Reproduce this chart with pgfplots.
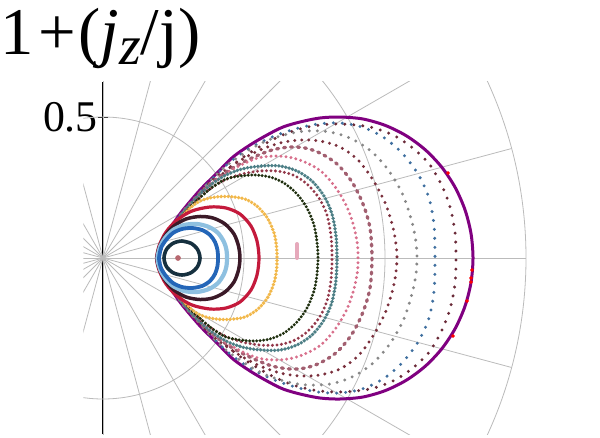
\documentclass[border=0pt]{standalone}
\usepackage{fontspec}
\setmainfont{Liberation Serif}
\usepackage{pgfplots}
\pgfplotsset{compat=1.18}
\definecolor{gridc}{HTML}{BBBBBB}
\definecolor{navyc}{HTML}{16303F}
\definecolor{bluec}{HTML}{2466B8}
\definecolor{lbluec}{HTML}{8EC0E0}
\definecolor{darkc}{HTML}{3B1A28}
\definecolor{crimc}{HTML}{C41A3C}
\definecolor{goldc}{HTML}{F2B84B}
\definecolor{olivec}{HTML}{1E2E0E}
\definecolor{marinc}{HTML}{93384A}
\definecolor{tealc}{HTML}{4D7F86}
\definecolor{pinkc}{HTML}{D8708C}
\definecolor{mauvec}{HTML}{A25F70}
\definecolor{maroac}{HTML}{7A2F3C}
\definecolor{greyc}{HTML}{888888}
\definecolor{steelc}{HTML}{3F6F9F}
\definecolor{marobc}{HTML}{6A2A38}
\definecolor{purplec}{HTML}{800080}
\definecolor{blobc}{HTML}{E6A9BB}
\definecolor{dotc}{HTML}{B86870}
\tikzset{dots/.style={line cap=round, dash pattern=on 0pt off #1}}
\begin{document}
\begin{tikzpicture}
\begin{axis}[
  x=282bp, y=282bp,
  xmin=-0.07, xmax=1.75, ymin=-0.625, ymax=0.625,
  axis x line=none,
  axis y line=center,
  axis line style={-, line width=2.5bp, black},
  ytick={0.5}, xtick=\empty,
  yticklabel style={font=\fontsize{44}{44}\selectfont, anchor=east, inner sep=0pt},
  major tick length=10bp, tick align=center,
  tick style={line width=1bp, black},
  /pgf/number format/assume math mode=true,
  clip=true,
]
\pgfplotsinvokeforeach{0,15,...,345}{\draw[gridc, line width=0.8bp] (axis cs:0,0) -- ++(#1:423bp);}
\draw[gridc, line width=0.8bp] (axis cs:0,0) circle[radius=141bp];
\draw[gridc, line width=0.8bp] (axis cs:0,0) circle[radius=282bp];
\draw[gridc, line width=0.8bp] (axis cs:0,0) circle[radius=423bp];

% outer boundary
\addplot[purplec, line width=3bp, smooth, mark=none] coordinates {
(0.1915,0) (0.2021,0.0390) (0.2270,0.0887) (0.2553,0.1312) (0.2837,0.1702) (0.3440,0.2411) (0.4043,0.3014) (0.4610,0.3582) (0.5213,0.4007) (0.5816,0.4362) (0.6383,0.4645) (0.6986,0.4823) (0.7695,0.4965) (0.8404,0.5000) (0.9220,0.4929) (1.0018,0.4699) (1.0762,0.4330) (1.1436,0.3830) (1.2018,0.3213) (1.2489,0.2500) (1.2837,0.1709) (1.3050,0.0869) (1.3121,0)
(1.3050,-0.0869) (1.2837,-0.1709) (1.2489,-0.2500) (1.2018,-0.3213) (1.1436,-0.3830) (1.0762,-0.4330) (1.0018,-0.4699) (0.9220,-0.4929) (0.8404,-0.5000) (0.7695,-0.4965) (0.6986,-0.4823) (0.6383,-0.4645) (0.5816,-0.4362) (0.5213,-0.4007) (0.4610,-0.3582) (0.4043,-0.3014) (0.3440,-0.2411) (0.2837,-0.1702) (0.2553,-0.1312) (0.2270,-0.0887) (0.2021,-0.0390) (0.1915,0)};

% maroon B
\addplot[marobc, line width=3.3bp, dots=9bp, smooth, mark=none] coordinates {
(0.1950,0) (0.2128,0.0461) (0.2376,0.0922) (0.2908,0.1667) (0.3511,0.2340) (0.4149,0.2908) (0.4787,0.3440) (0.5426,0.3865) (0.6064,0.4220) (0.6738,0.4504) (0.7447,0.4681) (0.8227,0.4752) (0.8972,0.4716) (0.9610,0.4610) (1.0355,0.4326) (1.1028,0.3865) (1.1596,0.3298) (1.2021,0.2553) (1.2305,0.1809) (1.2482,0.0922) (1.2518,0)
(1.2482,-0.0922) (1.2305,-0.1809) (1.2021,-0.2553) (1.1596,-0.3298) (1.1028,-0.3865) (1.0355,-0.4326) (0.9610,-0.4610) (0.8972,-0.4716) (0.8227,-0.4752) (0.7447,-0.4681) (0.6738,-0.4504) (0.6064,-0.4220) (0.5426,-0.3865) (0.4787,-0.3440) (0.4149,-0.2908) (0.3511,-0.2340) (0.2908,-0.1667) (0.2376,-0.0922) (0.2128,-0.0461) (0.1950,0)};

% steel blue
\addplot[steelc, line width=3.3bp, dots=9bp, smooth, mark=none] coordinates {
(0.1915,0) (0.2234,0.0709) (0.2730,0.1454) (0.3298,0.2163) (0.3865,0.2801) (0.4504,0.3404) (0.5213,0.3901) (0.5993,0.4291) (0.6809,0.4574) (0.7624,0.4752) (0.8404,0.4787) (0.9184,0.4645) (0.9929,0.4291) (1.0603,0.3723) (1.1170,0.2979) (1.1560,0.2128) (1.1738,0.1170) (1.1773,0)
(1.1738,-0.1170) (1.1560,-0.2128) (1.1170,-0.2979) (1.0603,-0.3723) (0.9929,-0.4291) (0.9184,-0.4645) (0.8404,-0.4787) (0.7624,-0.4752) (0.6809,-0.4574) (0.5993,-0.4291) (0.5213,-0.3901) (0.4504,-0.3404) (0.3865,-0.2801) (0.3298,-0.2163) (0.2730,-0.1454) (0.2234,-0.0709) (0.1915,0)};

% grey
\addplot[greyc, line width=3.3bp, dots=8bp, smooth, mark=none] coordinates {
(0.1915,0) (0.2199,0.0638) (0.2660,0.1348) (0.3227,0.2057) (0.3759,0.2695) (0.4362,0.3262) (0.5071,0.3759) (0.5780,0.4149) (0.6560,0.4397) (0.7234,0.4504) (0.8050,0.4468) (0.8830,0.4220) (0.9539,0.3759) (1.0142,0.3085) (1.0638,0.2234) (1.0957,0.1277) (1.1099,0.0567) (1.1135,0)
(1.1099,-0.0567) (1.0957,-0.1277) (1.0638,-0.2234) (1.0142,-0.3085) (0.9539,-0.3759) (0.8830,-0.4220) (0.8050,-0.4468) (0.7234,-0.4504) (0.6560,-0.4397) (0.5780,-0.4149) (0.5071,-0.3759) (0.4362,-0.3262) (0.3759,-0.2695) (0.3227,-0.2057) (0.2660,-0.1348) (0.2199,-0.0638) (0.1915,0)};

% maroon A
\addplot[maroac, line width=3.3bp, dots=7bp, smooth, mark=none] coordinates {
(0.1915,0) (0.2199,0.0638) (0.2660,0.1312) (0.3121,0.1950) (0.3652,0.2553) (0.4255,0.3050) (0.4894,0.3475) (0.5567,0.3830) (0.6277,0.4078) (0.6986,0.4184) (0.7695,0.4149) (0.8404,0.3936) (0.9043,0.3475) (0.9574,0.2766) (1.0035,0.1879) (1.0319,0.0922) (1.0426,0)
(1.0319,-0.0922) (1.0035,-0.1879) (0.9574,-0.2766) (0.9043,-0.3475) (0.8404,-0.3936) (0.7695,-0.4149) (0.6986,-0.4184) (0.6277,-0.4078) (0.5567,-0.3830) (0.4894,-0.3475) (0.4255,-0.3050) (0.3652,-0.2553) (0.3121,-0.1950) (0.2660,-0.1312) (0.2199,-0.0638) (0.1915,0)};

% mauve
\addplot[mauvec, line width=3.3bp, line cap=round, dash pattern=on 2bp off 5bp, smooth, mark=none] coordinates {
(0.1915,0) (0.2163,0.0603) (0.2518,0.1206) (0.2979,0.1809) (0.3511,0.2376) (0.4113,0.2872) (0.4716,0.3262) (0.5355,0.3582) (0.5993,0.3830) (0.6631,0.3936) (0.7163,0.3901) (0.7695,0.3723) (0.8298,0.3333) (0.8830,0.2695) (0.9220,0.1915) (0.9468,0.1064) (0.9539,0)
(0.9468,-0.1064) (0.9220,-0.1915) (0.8830,-0.2695) (0.8298,-0.3333) (0.7695,-0.3723) (0.7163,-0.3901) (0.6631,-0.3936) (0.5993,-0.3830) (0.5355,-0.3582) (0.4716,-0.3262) (0.4113,-0.2872) (0.3511,-0.2376) (0.2979,-0.1809) (0.2518,-0.1206) (0.2163,-0.0603) (0.1915,0)};

% pink
\addplot[pinkc, line width=3.3bp, dots=5bp, smooth, mark=none] coordinates {
(0.1915,0) (0.2128,0.0567) (0.2447,0.1099) (0.2872,0.1667) (0.3369,0.2199) (0.3936,0.2695) (0.4504,0.3085) (0.5035,0.3369) (0.5567,0.3564) (0.6170,0.3617) (0.6738,0.3546) (0.7234,0.3369) (0.7766,0.3050) (0.8262,0.2482) (0.8652,0.1809) (0.8901,0.1099) (0.9025,0.0461) (0.9043,0)
(0.9025,-0.0461) (0.8901,-0.1099) (0.8652,-0.1809) (0.8262,-0.2482) (0.7766,-0.3050) (0.7234,-0.3369) (0.6738,-0.3546) (0.6170,-0.3617) (0.5567,-0.3564) (0.5035,-0.3369) (0.4504,-0.3085) (0.3936,-0.2695) (0.3369,-0.2199) (0.2872,-0.1667) (0.2447,-0.1099) (0.2128,-0.0567) (0.1915,0)};

% teal
\addplot[tealc, line width=3.8bp, dots=3.5bp, smooth, mark=none] coordinates {
(0.1915,0) (0.2092,0.0496) (0.2376,0.0993) (0.2730,0.1489) (0.3191,0.2021) (0.3723,0.2518) (0.4291,0.2908) (0.4929,0.3156) (0.5603,0.3262) (0.6277,0.3262) (0.6879,0.3085) (0.7411,0.2730) (0.7837,0.2199) (0.8121,0.1560) (0.8262,0.0780) (0.8298,0)
(0.8262,-0.0780) (0.8121,-0.1560) (0.7837,-0.2199) (0.7411,-0.2730) (0.6879,-0.3085) (0.6277,-0.3262) (0.5603,-0.3262) (0.4929,-0.3156) (0.4291,-0.2908) (0.3723,-0.2518) (0.3191,-0.2021) (0.2730,-0.1489) (0.2376,-0.0993) (0.2092,-0.0496) (0.1915,0)};

% maroon inner
\addplot[marinc, line width=3.3bp, dots=4.5bp, smooth, mark=none] coordinates {
(0.1915,0) (0.2128,0.0532) (0.2447,0.1028) (0.2837,0.1525) (0.3262,0.1986) (0.3794,0.2447) (0.4326,0.2766) (0.4929,0.2979) (0.5567,0.3085) (0.6170,0.3085) (0.6738,0.2943) (0.7234,0.2624) (0.7660,0.2128) (0.7943,0.1525) (0.8085,0.0780) (0.8121,0)
(0.8085,-0.0780) (0.7943,-0.1525) (0.7660,-0.2128) (0.7234,-0.2624) (0.6738,-0.2943) (0.6170,-0.3085) (0.5567,-0.3085) (0.4929,-0.2979) (0.4326,-0.2766) (0.3794,-0.2447) (0.3262,-0.1986) (0.2837,-0.1525) (0.2447,-0.1028) (0.2128,-0.0532) (0.1915,0)};

% olive
\addplot[olivec, line width=3.3bp, dots=3.5bp, smooth, mark=none] coordinates {
(0.1933,0) (0.2092,0.0461) (0.2376,0.0922) (0.2730,0.1383) (0.3085,0.1809) (0.3546,0.2234) (0.3936,0.2553) (0.4362,0.2801) (0.4858,0.2908) (0.5390,0.2943) (0.5922,0.2872) (0.6418,0.2660) (0.6879,0.2270) (0.7234,0.1773) (0.7482,0.1170) (0.7589,0.0567) (0.7624,0)
(0.7589,-0.0567) (0.7482,-0.1170) (0.7234,-0.1773) (0.6879,-0.2270) (0.6418,-0.2660) (0.5922,-0.2872) (0.5390,-0.2943) (0.4858,-0.2908) (0.4362,-0.2801) (0.3936,-0.2553) (0.3546,-0.2234) (0.3085,-0.1809) (0.2730,-0.1383) (0.2376,-0.0922) (0.2092,-0.0461) (0.1933,0)};

% gold
\addplot[goldc, line width=3.8bp, dots=3.5bp, smooth, mark=none] coordinates {
(0.1915,0) (0.2057,0.0390) (0.2305,0.0816) (0.2624,0.1241) (0.2979,0.1667) (0.3369,0.1986) (0.3865,0.2145) (0.4433,0.2181) (0.5035,0.2092) (0.5496,0.1809) (0.5851,0.1383) (0.6064,0.0887) (0.6152,0.0426) (0.6170,0)
(0.6152,-0.0426) (0.6064,-0.0887) (0.5851,-0.1383) (0.5496,-0.1809) (0.5035,-0.2092) (0.4433,-0.2181) (0.3865,-0.2145) (0.3369,-0.1986) (0.2979,-0.1667) (0.2624,-0.1241) (0.2305,-0.0816) (0.2057,-0.0390) (0.1915,0)};

% crimson
\addplot[crimc, line width=3.2bp, smooth, mark=none] coordinates {
(0.1897,0) (0.1986,0.0426) (0.2234,0.0922) (0.2624,0.1348) (0.3156,0.1667) (0.3794,0.1809) (0.4362,0.1773) (0.4858,0.1560) (0.5248,0.1135) (0.5461,0.0603) (0.5532,0) (0.5461,-0.0603) (0.5248,-0.1135) (0.4858,-0.1560) (0.4362,-0.1773) (0.3794,-0.1809) (0.3156,-0.1667) (0.2624,-0.1348) (0.2234,-0.0922) (0.1986,-0.0426) (0.1897,0) (0.1986,0.0426)};

% dark
\addplot[darkc, line width=3.5bp, smooth, mark=none] coordinates {
(0.1915,0) (0.1986,0.0355) (0.2199,0.0780) (0.2518,0.1135) (0.2943,0.1383) (0.3440,0.1472) (0.3901,0.1418) (0.4326,0.1206) (0.4645,0.0851) (0.4805,0.0426) (0.4858,0) (0.4805,-0.0426) (0.4645,-0.0851) (0.4326,-0.1206) (0.3901,-0.1418) (0.3440,-0.1472) (0.2943,-0.1383) (0.2518,-0.1135) (0.2199,-0.0780) (0.1986,-0.0355) (0.1915,0) (0.1986,0.0355)};

% light blue
\addplot[lbluec, line width=4.2bp, smooth, mark=none] coordinates {
(0.1933,0) (0.2021,0.0390) (0.2199,0.0709) (0.2482,0.0993) (0.2872,0.1170) (0.3333,0.1206) (0.3759,0.1099) (0.4078,0.0887) (0.4291,0.0567) (0.4379,0.0284) (0.4397,0) (0.4379,-0.0284) (0.4291,-0.0567) (0.4078,-0.0887) (0.3759,-0.1099) (0.3333,-0.1206) (0.2872,-0.1170) (0.2482,-0.0993) (0.2199,-0.0709) (0.2021,-0.0390) (0.1933,0) (0.2021,0.0390)};

% blue
\addplot[bluec, line width=3.8bp, smooth, mark=none] coordinates {
(0.1986,0) (0.2057,0.0355) (0.2234,0.0638) (0.2482,0.0887) (0.2801,0.1028) (0.3156,0.1064) (0.3511,0.0993) (0.3794,0.0816) (0.3972,0.0567) (0.4060,0.0284) (0.4078,0) (0.4060,-0.0284) (0.3972,-0.0567) (0.3794,-0.0816) (0.3511,-0.0993) (0.3156,-0.1064) (0.2801,-0.1028) (0.2482,-0.0887) (0.2234,-0.0638) (0.2057,-0.0355) (0.1986,0) (0.2057,0.0355)};

% navy
\addplot[navyc, line width=3.6bp, smooth, mark=none] coordinates {
(0.2801,0.0603) (0.3121,0.0521) (0.3355,0.0301) (0.3440,0) (0.3355,-0.0301) (0.3121,-0.0521) (0.2801,-0.0603) (0.2482,-0.0521) (0.2248,-0.0301) (0.2163,0) (0.2248,0.0301) (0.2482,0.0521) (0.2801,0.0603) (0.3121,0.0521)};

% centre point
\addplot[only marks, mark=*, mark size=2.6bp, color=dotc] coordinates {(0.2660,0)};
% pink blob
\addplot[blobc, line width=4bp, line cap=round, mark=none] coordinates {(0.6879,0.0496) (0.6879,0.0)};
% red points
\addplot[only marks, mark=*, mark size=1.6bp, color=red] coordinates {
(1.2234,0.3014) (1.3085,-0.0426) (1.3050,-0.0709) (1.3050,-0.0851) (1.2908,-0.1525) (1.2411,-0.2766)};
\end{axis}
\node[anchor=base west, inner sep=0pt, font=\fontsize{67}{67}\selectfont] at (-83bp,380bp)
  {1\hspace{5bp}+\hspace{2bp}(\textit{j}\raisebox{-10bp}{\fontsize{56}{56}\selectfont\textit{z}}/j)};
\pgfresetboundingbox
\path[use as bounding box] (-83.26bp,-3.75bp) rectangle (516.74bp,434.25bp);
\end{tikzpicture}
\end{document}
